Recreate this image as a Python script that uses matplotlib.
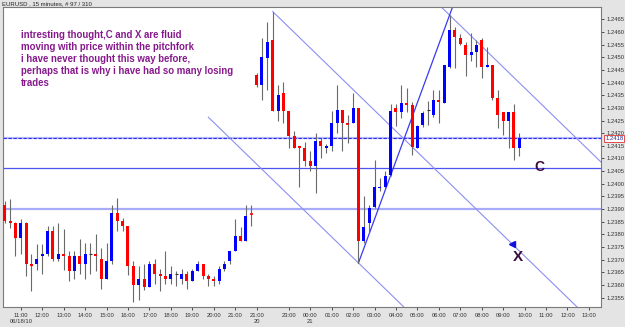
import numpy as np
import matplotlib
matplotlib.use("Agg")
import matplotlib.pyplot as plt

plt.rcParams["font.family"] = ["Liberation Sans", "DejaVu Sans"]

# ---- 15-minute EURUSD bars (Fri 18 Jun 2010 -> Mon 21 Jun 2010) ----
opens = [
    1.23917, 1.23854, 1.23845, 1.23785, 1.23845, 1.23684, 1.23684, 1.23713, 1.23723, 1.23812,
    1.23704, 1.23723, 1.23713, 1.23654, 1.23713, 1.23684, 1.23723, 1.23723, 1.23704, 1.23623,
    1.23693, 1.23884, 1.23854, 1.23834, 1.23673, 1.23601, 1.23623, 1.23592, 1.23684, 1.23644,
    1.23634, 1.23623, 1.23644, 1.23623, 1.23644, 1.23614, 1.23654, 1.23684, 1.23634, 1.23623,
    1.23614, 1.23664, 1.23693, 1.23733, 1.23792, 1.23772, 1.23881,
    1.24430, 1.24391, 1.24499,
    1.24569, 1.24288, 1.24358, 1.24288, 1.24190, 1.24151, 1.24143, 1.24091, 1.24072, 1.24170,
    1.24143, 1.24151, 1.24240, 1.24292, 1.24237, 1.24240, 1.24299, 1.23772, 1.23845, 1.23910,
    1.23983, 1.23989, 1.24033, 1.24299, 1.24283, 1.24319, 1.24312, 1.24143, 1.24233, 1.24292,
    1.24272, 1.24332, 1.24319, 1.24463, 1.24608, 1.24578, 1.24549, 1.24509, 1.24520, 1.24569,
    1.24461, 1.24470, 1.24341, 1.24283, 1.24249, 1.24283, 1.24141]
highs = [
    1.23930, 1.23941, 1.23850, 1.23860, 1.23850, 1.23723, 1.23763, 1.23763, 1.23834, 1.23834,
    1.23845, 1.23822, 1.23733, 1.23733, 1.23781, 1.23766, 1.23766, 1.23802, 1.23746, 1.23766,
    1.23917, 1.23943, 1.23864, 1.23834, 1.23693, 1.23673, 1.23684, 1.23693, 1.23702, 1.23664,
    1.23733, 1.23673, 1.23654, 1.23664, 1.23654, 1.23664, 1.23693, 1.23684, 1.23644, 1.23634,
    1.23673, 1.23693, 1.23733, 1.23860, 1.23831, 1.23917, 1.23917,
    1.24438, 1.24578, 1.24641,
    1.24681, 1.24391, 1.24402, 1.24288, 1.24207, 1.24151, 1.24165, 1.24128, 1.24200, 1.24180,
    1.24157, 1.24288, 1.24391, 1.24292, 1.24272, 1.24358, 1.24299, 1.23950, 1.23917, 1.24095,
    1.24022, 1.24049, 1.24315, 1.24315, 1.24391, 1.24378, 1.24325, 1.24233, 1.24286, 1.24328,
    1.24371, 1.24371, 1.24470, 1.24667, 1.24621, 1.24591, 1.24562, 1.24595, 1.24569, 1.24575,
    1.24542, 1.24470, 1.24371, 1.24283, 1.24283, 1.24315, 1.24200]
lows = [
    1.23845, 1.23825, 1.23713, 1.23722, 1.23634, 1.23575, 1.23660, 1.23644, 1.23716, 1.23693,
    1.23693, 1.23660, 1.23614, 1.23623, 1.23644, 1.23623, 1.23644, 1.23654, 1.23584, 1.23623,
    1.23684, 1.23812, 1.23812, 1.23640, 1.23531, 1.23542, 1.23581, 1.23592, 1.23604, 1.23575,
    1.23604, 1.23604, 1.23594, 1.23604, 1.23584, 1.23614, 1.23654, 1.23623, 1.23594, 1.23594,
    1.23604, 1.23654, 1.23684, 1.23733, 1.23772, 1.23772, 1.23834,
    1.24383, 1.24332, 1.24371,
    1.24288, 1.24249, 1.24240, 1.24141, 1.24141, 1.23989, 1.24072, 1.24049, 1.23963, 1.24101,
    1.24121, 1.24128, 1.24200, 1.24130, 1.24161, 1.24240, 1.23687, 1.23766, 1.23805, 1.23904,
    1.23970, 1.23976, 1.24029, 1.24230, 1.24259, 1.24283, 1.24112, 1.24141, 1.24226, 1.24233,
    1.24266, 1.24240, 1.24319, 1.24457, 1.24457, 1.24549, 1.24428, 1.24486, 1.24463, 1.24420,
    1.24461, 1.24332, 1.24220, 1.24191, 1.24141, 1.24095, 1.24108]
closes = [
    1.23851, 1.23845, 1.23785, 1.23845, 1.23684, 1.23673, 1.23704, 1.23723, 1.23812, 1.23704,
    1.23723, 1.23713, 1.23654, 1.23713, 1.23684, 1.23723, 1.23723, 1.23713, 1.23623, 1.23693,
    1.23884, 1.23851, 1.23834, 1.23673, 1.23601, 1.23623, 1.23592, 1.23684, 1.23644, 1.23634,
    1.23623, 1.23644, 1.23644, 1.23644, 1.23614, 1.23654, 1.23684, 1.23634, 1.23623, 1.23614,
    1.23664, 1.23684, 1.23733, 1.23792, 1.23772, 1.23874, 1.23879,
    1.24391, 1.24503, 1.24560,
    1.24288, 1.24351, 1.24288, 1.24190, 1.24143, 1.24143, 1.24091, 1.24072, 1.24170, 1.24151,
    1.24151, 1.24240, 1.24292, 1.24240, 1.24240, 1.24299, 1.23772, 1.23831, 1.23904, 1.23989,
    1.23989, 1.24029, 1.24288, 1.24283, 1.24319, 1.24312, 1.24147, 1.24229, 1.24279, 1.24292,
    1.24332, 1.24323, 1.24470, 1.24608, 1.24582, 1.24552, 1.24509, 1.24520, 1.24549, 1.24463,
    1.24470, 1.24341, 1.24272, 1.24249, 1.24283, 1.24141, 1.24180]

# x-axis hour labels (bar index where each hour starts) and their texts
tick_bars = [3, 7, 11, 15, 19, 23, 27, 31, 35, 39, 43, 47, 53, 57, 61, 65, 69,
             73, 77, 81, 85, 89, 93, 97, 101, 105, 109]
tick_text = ["11:00\n06/18/10", "12:00", "13:00", "14:00", "15:00", "16:00",
             "17:00", "18:00", "19:00", "20:00", "21:00", "21:00\n20", "23:00",
             "00:00\n21", "01:00", "02:00", "03:00", "04:00", "05:00", "06:00",
             "07:00", "08:00", "09:00", "10:00", "11:00", "12:00", "13:00"]

# horizontal levels
bid_level = 1.2418
c_level = 1.24062
low_level = 1.2390

# pitchfork pivots: (bar, price) -> A handle, B high, C low
piv_a = (50, highs[50])
piv_b = (83, highs[83])
piv_c = (66, lows[66])

note = ("intresting thought,C and X are fluid\n"
        "moving with price within the pitchfork\n"
        "i have never thought this way before,\n"
        "perhaps that is why i have had so many losing\n"
        "trades")

o = np.array(opens); h = np.array(highs); l = np.array(lows); c = np.array(closes)
x = np.arange(len(o))

fig = plt.figure(figsize=(6.25, 3.27), dpi=100, facecolor="#e4e4e4")
ax = fig.add_axes([0.004, 0.0621, 0.9576, 0.9165])
ax.set_facecolor("white")
XMIN, XMAX = -0.41, 111.25
YMIN, YMAX = 1.23514, 1.24699
ax.set_xlim(XMIN, XMAX)
ax.set_ylim(YMIN, YMAX)

# horizontal lines
ax.axhline(low_level, color="#a8acf8", lw=1.6, zorder=1)
ax.axhline(c_level, color="#4d55f0", lw=0.9, zorder=1)
ax.axhline(bid_level, color="#b8bcf8", lw=1.6, zorder=1)
ax.axhline(bid_level, color="#2a2af0", lw=0.8, ls=(0, (3, 1.5)), zorder=1)

# candles
ax.vlines(x, l, h, color="#6a6a6a", lw=0.8, zorder=2)
up = c > o
down = c < o
flat = c == o
bw = 0.56
ax.bar(x[up], (c - o)[up], bottom=o[up], width=bw, color="#0000ff", lw=0, zorder=3)
ax.bar(x[down], (o - c)[down], bottom=c[down], width=bw, color="#ff0000", lw=0, zorder=3)
ax.hlines(o[flat], x[flat] - bw / 2, x[flat] + bw / 2, color="#333333", lw=0.8, zorder=3)
tiny = np.abs(c - o) < 0.00003
ax.hlines(o[tiny & ~flat], (x - bw / 2)[tiny & ~flat], (x + bw / 2)[tiny & ~flat],
          color="#ff0000", lw=1.2, zorder=3)

# pitchfork
mid_x = (piv_b[0] + piv_c[0]) / 2
mid_y = (piv_b[1] + piv_c[1]) / 2
slope = (mid_y - piv_a[1]) / (mid_x - piv_a[0])
xe = XMAX + 5
fork_col = "#8c90f0"
ax.plot([piv_a[0], xe], [piv_a[1], piv_a[1] + slope * (xe - piv_a[0])],
        color=fork_col, lw=0.8, zorder=1)
for px, py in (piv_b, piv_c):
    xs = px - 28
    ax.plot([xs, xe], [py + slope * (xs - px), py + slope * (xe - px)],
            color=fork_col, lw=0.8, zorder=1)
bc_slope = (piv_b[1] - piv_c[1]) / (piv_b[0] - piv_c[0])
ax.plot([piv_c[0], piv_b[0] + 2], [piv_c[1], piv_b[1] + 2 * bc_slope],
        color="#3a3af0", lw=0.9, zorder=1)

# arrow marker on median line + labels
ax_x = 94.6
ax.plot([ax_x], [piv_a[1] + slope * (ax_x - piv_a[0])], marker="<", ms=4.5,
        color="#1010e0", zorder=4)
ax.text(95.8, 1.23710, "X", fontsize=11, fontweight="bold", color="#3a0a3c",
        ha="center", va="center")
ax.text(99.7, 1.24068, "C", fontsize=10, fontweight="bold", color="#3a0a3c",
        ha="center", va="center")

fig.text(20.7 / 625, 1 - 30 / 327, note, fontsize=6.9, fontweight="bold",
         color="#861a8c", ha="left", va="top", linespacing=1.25)
fig.text(2 / 625, 1 - 3.8 / 327, "EURUSD , 15 minutes, # 97 / 310",
         fontsize=4.3, color="#222222", ha="left", va="center")

# axes styling
ax.yaxis.tick_right()
yt = np.arange(1.2355, 1.24651, 0.0005)
ax.set_yticks(yt)
ax.set_yticklabels([f"{v:.4f}" for v in yt])
ax.set_xticks(tick_bars)
ax.set_xticklabels(tick_text)
ax.tick_params(axis="both", labelsize=4.2, colors="#333333", length=2.5,
               width=0.6, pad=1.5)
ax.tick_params(axis="x", pad=2)
for s in ax.spines.values():
    s.set_color("#7a7a7a")
    s.set_linewidth(0.8)

ax.annotate(f"{bid_level:.4f}", xy=(1.0, bid_level),
            xycoords=("axes fraction", "data"), xytext=(3, 0),
            textcoords="offset points", fontsize=4.2, color="#2a2a90",
            va="center", ha="left", zorder=10,
            bbox=dict(boxstyle="square,pad=0.15", fc="white", ec="#e03030", lw=0.6))

fig.savefig("out.png", dpi=100, facecolor=fig.get_facecolor())
